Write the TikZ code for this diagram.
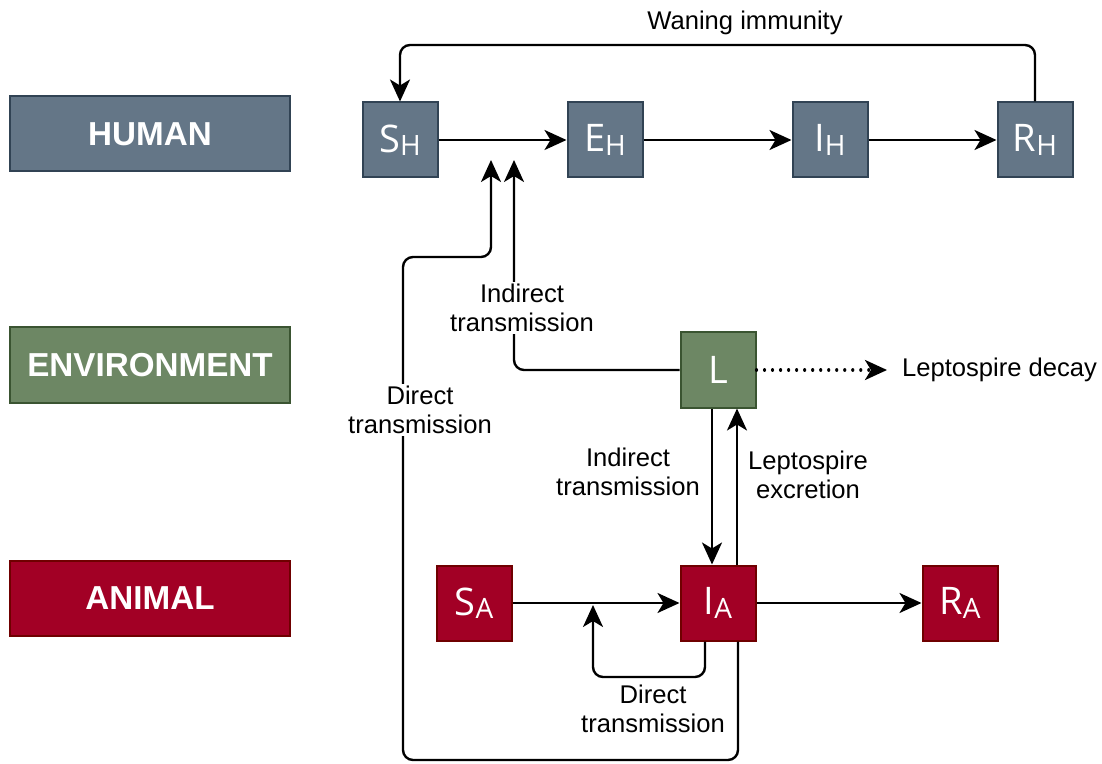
\documentclass[tikz,border=0pt]{standalone}
\usepackage{fontspec}
\setmainfont{Liberation Sans}
\newfontfamily\boxfont{Open Sans}
\usetikzlibrary{arrows.meta}

% compartment label with a subscript
\newcommand{\cmp}[2]{{\fontsize{19}{21}\selectfont #1}\raisebox{-0.3ex}{\fontsize{14}{16}\selectfont #2}}

\definecolor{humanfill}{HTML}{647687}
\definecolor{humanline}{HTML}{314354}
\definecolor{envfill}{HTML}{6D8764}
\definecolor{envline}{HTML}{3A5431}
\definecolor{animalfill}{HTML}{A20025}
\definecolor{animalline}{HTML}{6F0000}

\begin{document}
\begin{tikzpicture}[x=0.5pt, y=-0.5pt,
  font=\fontsize{12.8}{14.5}\selectfont,
  groupbox/.style={draw, line width=1pt, minimum width=140pt, minimum height=37.5pt,
    text=white, font=\fontsize{16.6}{18}\selectfont\bfseries},
  cmpbox/.style={draw, line width=1pt, minimum width=37.5pt, minimum height=37.5pt,
    text=white, font=\boxfont, inner sep=0pt},
  human/.style={fill=humanfill, draw=humanline},
  env/.style={fill=envfill, draw=envline},
  animal/.style={fill=animalfill, draw=animalline},
  flow/.style={line width=1.2pt, rounded corners=5pt, -{Stealth[length=11pt, width=10pt, inset=3pt]}},
  lbl/.style={align=center, fill=white, inner sep=1pt}]
%\draw[help lines, color=gray!30] (0,0) grid[step=50] (1102,764);
\useasboundingbox (0,0) rectangle (1102,764);

\node[groupbox, human] (human) at (150,134) {HUMAN};
\node[groupbox, env] (environment) at (150,365) {ENVIRONMENT};
\node[groupbox, animal] (animal) at (150,598) {ANIMAL};

\node[cmpbox, human] (sh) at (400,140) {\cmp{S}{H}};
\node[cmpbox, human] (eh) at (605,140) {\cmp{E}{H}};
\node[cmpbox, human] (ih) at (830,140) {\cmp{I}{H}};
\node[cmpbox, human] (rh) at (1035,140) {\cmp{R}{H}};

\node[cmpbox, env] (l) at (718,370) {\fontsize{19}{21}\selectfont L};

\node[cmpbox, animal] (sa) at (474,603) {\cmp{S}{A}};
\node[cmpbox, animal] (ia) at (718,603) {\cmp{I}{A}};
\node[cmpbox, animal] (ra) at (960,603) {\cmp{R}{A}};

\coordinate (directtip) at (491,160);
\coordinate (indirecttip) at (514,160);
\coordinate (animaltip) at (593,605);
\coordinate (decayend) at (887,370);

% human chain
\draw[flow] (sh) -- (eh);
\draw[flow] (eh) -- (ih);
\draw[flow] (ih) -- (rh);
\draw[flow] (rh.north) |- (715,45) -| (sh.north);
\node (waning) at (745,23) {Waning immunity};

% animal chain
\draw[flow] (sa) -- (ia);
\draw[flow] (ia) -- (ra);
\draw[flow] (ia.south -| 705,0) |- (650,677) -| (animaltip);

% environment
\draw[flow] (l.south -| 712,0) -- (ia.north -| 712,0);
\draw[flow] (ia.north -| 737,0) -- (l.south -| 737,0);
\draw[flow, line width=1.6pt, line cap=round, dash pattern=on 0.01pt off 4pt] (l.east) -- (decayend);
\node[anchor=west] (decay) at (895,370) {Leptospire decay};

% transmission to humans
\draw[flow] (ia.south -| 738,0) |- (403,760) |- (491,257) -- (directtip);
\draw[flow] (l.west) -| (indirecttip);

\node[lbl] (directh) at (420,410) {Direct\\transmission};
\node[lbl] (indirecth) at (522,308) {Indirect\\transmission};
\node[lbl] (indirecta) at (628,472) {Indirect\\transmission};
\node[lbl] (excretion) at (808,475) {Leptospire\\excretion};
\node[lbl] (directa) at (653,709) {Direct\\transmission};

\end{tikzpicture}
\end{document}
